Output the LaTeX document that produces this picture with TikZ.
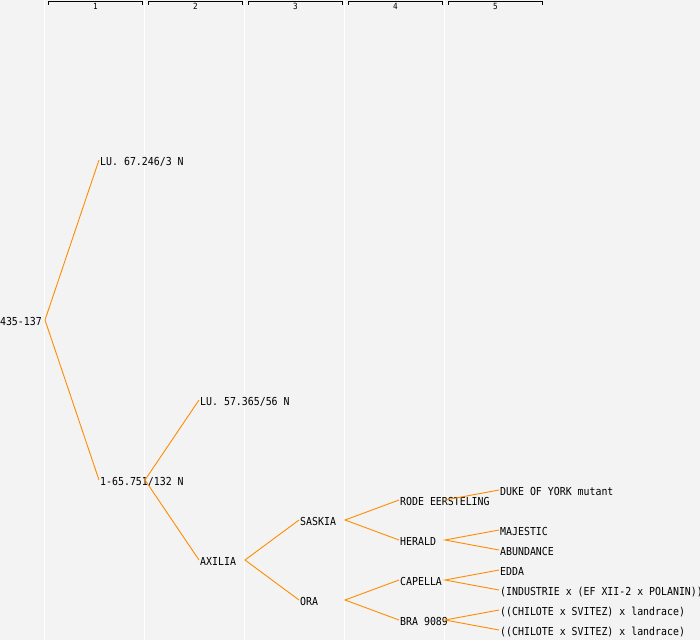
\documentclass[tikz,border=0pt]{standalone}
\usepackage{fontspec}
\newfontfamily\treefont{DejaVu Sans Mono}[FakeStretch=0.9]
\definecolor{bg}{RGB}{243,243,243}
\definecolor{edgec}{RGB}{255,140,0}
\newcommand\treenode[4]{%
  \node[lbl] (#1) at ({100*#2}, {#3+5.5}) {#4};
  \coordinate (#1-in) at ({100*#2-1}, #3);
  \coordinate (#1-out) at ({100*#2+45}, #3);
}
\begin{document}
\begin{tikzpicture}[x=1pt,y=-1pt,
  lbl/.style={anchor=base west, inner sep=0pt, font=\treefont\fontsize{11}{11}\selectfont},
  edgeline/.style={draw=edgec, line width=0.9pt},
  colsep/.style={draw=white, line width=1pt},
  ruler/.style={draw=black, line width=1pt},
  rulelbl/.style={inner sep=0pt, font=\treefont\fontsize{8.5}{8.5}\selectfont}]
\fill[bg] (0,0) rectangle (700,640);
\useasboundingbox (0,0) rectangle (700,640);
% column separators
\foreach \cx in {44.5,144.5,244.5,344.5,444.5}
  \draw[colsep] (\cx,0) -- (\cx,640);
% ruler
\foreach \k in {1,...,5} {
  \pgfmathsetmacro\xa{48+100*(\k-1)}
  \pgfmathsetmacro\xb{142.5+100*(\k-1)}
  \pgfmathsetmacro\xc{95.5+100*(\k-1)}
  \draw[ruler] (\xa,4.5) -- (\xa,1.5) -- (\xb,1.5) -- (\xb,4.5);
  \node[rulelbl] (col\k) at (\xc,6.3) {\k};
}
% nodes
\node[lbl, anchor=base east] (root) at (42,325.5) {435-137};
\coordinate (root-out) at (45,320);
\treenode{a}{1}{160}{LU. 67.246/3 N}
\treenode{b}{1}{480}{1-65.751/132 N}
\treenode{c}{2}{400}{LU. 57.365/56 N}
\treenode{d}{2}{560}{AXILIA}
\treenode{e}{3}{520}{SASKIA}
\treenode{f}{3}{600}{ORA}
\treenode{g}{4}{500}{RODE EERSTELING}
\treenode{h}{4}{540}{HERALD}
\treenode{i}{4}{580}{CAPELLA}
\treenode{j}{4}{620}{BRA 9089}
\treenode{k}{5}{490}{DUKE OF YORK mutant}
\treenode{l}{5}{530}{MAJESTIC}
\treenode{m}{5}{550}{ABUNDANCE}
\treenode{n}{5}{570}{EDDA}
\treenode{o}{5}{590}{(INDUSTRIE x (EF XII-2 x POLANIN))}
\treenode{p}{5}{610}{((CHILOTE x SVITEZ) x landrace)}
\treenode{q}{5}{630}{((CHILOTE x SVITEZ) x landrace)}
% connectors
\draw[edgeline] (a-in) -- (root-out) -- (b-in);
\draw[edgeline] (c-in) -- (b-out) -- (d-in);
\draw[edgeline] (e-in) -- (d-out) -- (f-in);
\draw[edgeline] (g-in) -- (e-out) -- (h-in);
\draw[edgeline] (i-in) -- (f-out) -- (j-in);
\draw[edgeline] (g-out) -- (k-in);
\draw[edgeline] (l-in) -- (h-out) -- (m-in);
\draw[edgeline] (n-in) -- (i-out) -- (o-in);
\draw[edgeline] (p-in) -- (j-out) -- (q-in);
\end{tikzpicture}
\end{document}
